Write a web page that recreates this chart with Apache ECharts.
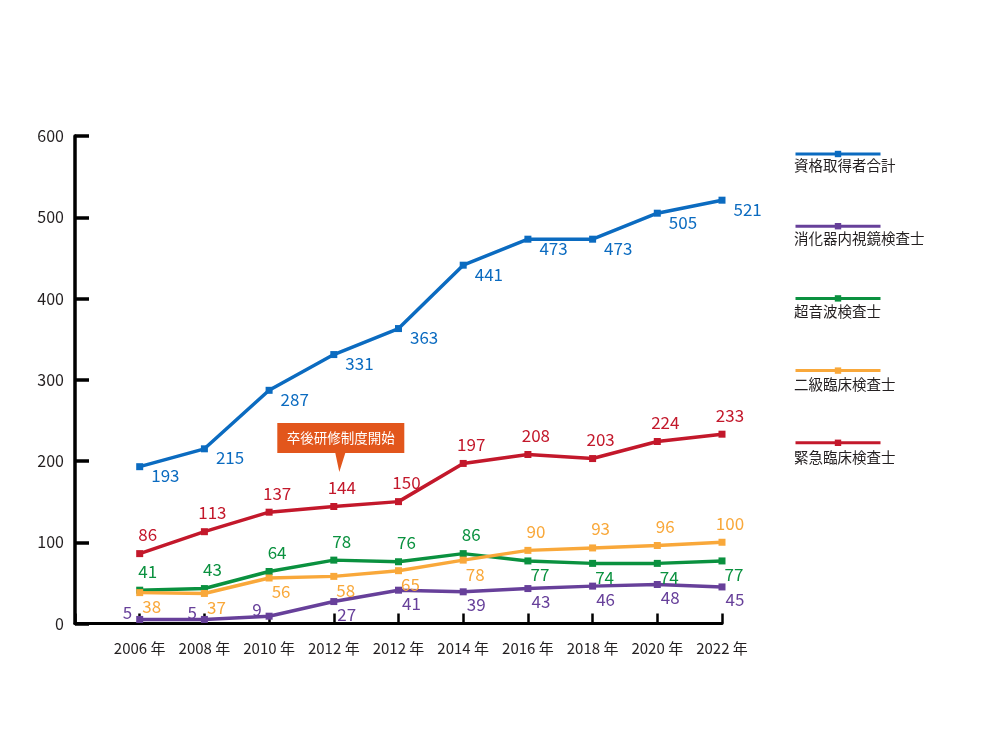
<!DOCTYPE html>
<html>
<head>
<meta charset="utf-8">
<script src="https://cdn.jsdelivr.net/npm/echarts@6/dist/echarts.min.js"></script>
<style>
html,body{margin:0;padding:0;background:#fff;}
#chart{width:1000px;height:750px;}
</style>
</head>
<body>
<div id="chart"></div>
<script>
// ---- data ----
const categories = ['2006 年','2008 年','2010 年','2012 年','2012 年','2014 年','2016 年','2018 年','2020 年','2022 年'];
const yTicks = [0,100,200,300,400,500,600];
const seriesNames = ['資格取得者合計','消化器内視鏡検査士','超音波検査士','二級臨床検査士','緊急臨床検査士'];
const totalCertified = [193,215,287,331,363,441,473,473,505,521];
const endoscopy     = [5,5,9,27,41,39,43,46,48,45];
const ultrasound    = [41,43,64,78,76,86,77,74,74,77];
const clinical2     = [38,37,56,58,65,78,90,93,96,100];
const emergency     = [86,113,137,144,150,197,208,203,224,233];
const calloutText = '卒後研修制度開始';
const calloutIndex = 3;

// ---- styles ----
const colors = ['#0b6bc0','#67409a','#0a913f','#f9a83a','#c3182b'];
const FONT = '"Noto Sans CJK JP", "Noto Sans", sans-serif';

const LABEL_STYLE = {
  right:  {position:'right', distance:5, offset:[3,9]},
  top:    {position:'top', distance:5, offset:[8,-2]},
  bottom: {position:'bottom', distance:5, offset:[12,-3]},
  left:   {position:'left', distance:4, offset:[0,-7]},
  bottomR:{position:'bottom', distance:5, offset:[13,-4]}
};

function build(values, sideFn, color) {
  return values.map((v, i) => {
    const s = LABEL_STYLE[sideFn(i)];
    return {value: [i, v], label: Object.assign({show:true, color: color, fontSize:17, fontFamily: FONT}, s)};
  });
}

const dataSets = [
  build(totalCertified, () => 'right', colors[0]),
  build(endoscopy, i => endoscopy[i] < 10 ? 'left' : 'bottomR', colors[1]),
  build(ultrasound, i => ultrasound[i] >= clinical2[i] ? 'top' : 'bottom', colors[2]),
  build(clinical2, i => clinical2[i] > ultrasound[i] ? 'top' : 'bottom', colors[3]),
  build(emergency, () => 'top', colors[4])
];

const series = seriesNames.map((name, k) => {
  const s = {
    name: name,
    type: 'line',
    data: dataSets[k],
    symbol: 'rect',
    symbolSize: 7,
    showAllSymbol: true,
    lineStyle: {width: 3.5, color: colors[k]},
    itemStyle: {color: colors[k]},
    animation: false,
    z: 2 + k
  };
  if (k === 4) {
    s.markPoint = {
      silent: true,
      symbol: 'path://M0,0 L127,0 L127,30 L68,30 L62,49 L58,30 L0,30 Z',
      symbolSize: [127, 49],
      symbolOffset: [7, -59],
      itemStyle: {color: '#e2561c'},
      label: {show: true, position: 'inside', offset: [0, -9.5], color: '#fff', fontSize: 13.5, fontFamily: FONT, formatter: calloutText},
      data: [{coord: [calloutIndex, emergency[calloutIndex]], name: calloutText}]
    };
  }
  return s;
});

const chart = echarts.init(document.getElementById('chart'), null, {renderer: 'canvas'});
chart.setOption({
  backgroundColor: '#ffffff',
  animation: false,
  color: colors,
  grid: {left: 75, right: 278, top: 136, bottom: 126.5, containLabel: false},
  xAxis: {
    type: 'value',
    min: -1, max: categories.length - 1, interval: 1,
    axisLine: {show: true, onZero: false, lineStyle: {color: '#000', width: 3}},
    axisTick: {show: true, inside: true, length: 10, lineStyle: {color: '#000', width: 2.5}},
    axisLabel: {
      margin: 17, color: '#231f20', fontSize: 15, fontFamily: FONT,
      formatter: v => (v >= 0 && v < categories.length) ? categories[v] : ''
    },
    splitLine: {show: false}
  },
  yAxis: {
    type: 'value',
    min: yTicks[0], max: yTicks[yTicks.length - 1], interval: 100,
    axisLine: {show: true, onZero: false, lineStyle: {color: '#000', width: 3.5}},
    axisTick: {show: true, inside: true, length: 14, lineStyle: {color: '#000', width: 3.5}},
    axisLabel: {margin: 11, color: '#231f20', fontSize: 16, fontFamily: FONT, padding: [12, 0, 0, 0]},
    splitLine: {show: false}
  },
  legend: {
    orient: 'vertical',
    left: 794, top: 150,
    padding: 0,
    itemWidth: 85, itemHeight: 8, itemGap: 65,
    data: seriesNames,
    formatter: () => '',
    textStyle: {fontSize: 6},
    lineStyle: {width: 3},
    selectedMode: false
  },
  graphic: seriesNames.map((name, k) => ({
    type: 'text',
    left: 794,
    top: 158 + k * 73,
    silent: true,
    style: {text: name, fill: '#231f20', fontSize: 14.5, fontFamily: FONT}
  })),
  series: series
});
</script>
</body>
</html>
